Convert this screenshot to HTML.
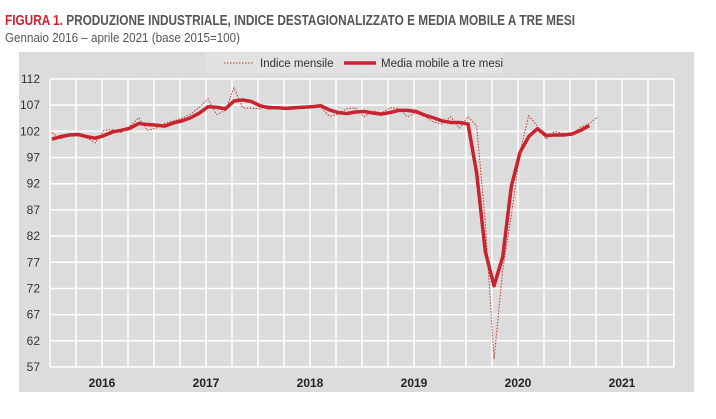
<!DOCTYPE html>
<html><head><meta charset="utf-8"><style>
body{margin:0;background:#fff;width:716px;height:419px;overflow:hidden}
svg{display:block;font-family:"Liberation Sans",sans-serif}
</style></head><body>
<svg id="s" width="716" height="419" viewBox="0 0 716 419">
<text x="5" y="25" font-size="14.5" font-weight="bold" fill="#555" textLength="570" lengthAdjust="spacingAndGlyphs"><tspan fill="#d0202e">FIGURA 1.</tspan> PRODUZIONE INDUSTRIALE, INDICE DESTAGIONALIZZATO E MEDIA MOBILE A TRE MESI</text>
<text x="5" y="42" font-size="12.5" fill="#555" textLength="235" lengthAdjust="spacingAndGlyphs">Gennaio 2016 – aprile 2021 (base 2015=100)</text>
<rect x="19" y="52" width="675" height="340" fill="#dcdcdc"/>
<rect x="205" y="53" width="298" height="20" fill="#e2e2e2"/>
<line x1="224" y1="63" x2="254" y2="63" stroke="#c0392b" stroke-width="1" stroke-dasharray="1.5,1.5"/>
<text x="260" y="67" font-size="11.5" fill="#333">Indice mensile</text>
<line x1="344" y1="63" x2="376" y2="63" stroke="#c8232f" stroke-width="3.5"/>
<text x="381" y="67" font-size="11.5" fill="#333">Media mobile a tre mesi</text>
<g id="grid" stroke="#fff" stroke-width="1.5"></g>
<g id="yl" font-size="12" fill="#333" text-anchor="end"></g>
<g font-size="12" font-weight="bold" fill="#222" text-anchor="middle">
<text x="102" y="387">2016</text><text x="206" y="387">2017</text><text x="310" y="387">2018</text><text x="414" y="387">2019</text><text x="518" y="387">2020</text><text x="622" y="387">2021</text></g>
<polyline id="mo" fill="none" stroke="#c0392b" stroke-width="1" stroke-dasharray="1.5,1.5"/>
<polyline id="ma" fill="none" stroke="#c8232f" stroke-width="3.5" stroke-linejoin="round"/>
</svg>
<script>
var Y=function(v){return 79+(112-v)*5.236};
var X=function(i){return 52+8.667*i};
var g='';
for(var k=0;k<=24;k++){var x=50+26*k;g+='<line x1="'+x+'" y1="79" x2="'+x+'" y2="367"/>';}
var yl='';
for(var v=57;v<=112;v+=5){g+='<line x1="50" y1="'+Y(v)+'" x2="674" y2="'+Y(v)+'"/>';yl+='<text x="40" y="'+(Y(v)+4)+'">'+v+'</text>';}
document.getElementById('grid').innerHTML=g;
document.getElementById('yl').innerHTML=yl;
var ma=[100.5,101,101.3,101.4,101,100.7,101.2,101.9,102.2,102.6,103.5,103.3,
103.2,103,103.6,104,104.6,105.5,106.7,106.6,106.3,107.8,108,107.7,
106.9,106.5,106.5,106.4,106.5,106.6,106.7,106.9,106.1,105.6,105.4,105.7,
105.8,105.5,105.3,105.6,106,106,105.8,105.1,104.6,104,103.7,103.7,
103.4,94,79,72.5,78,91.5,98,101,102.5,101.2,101.3,101.3,
101.5,102.2,103.1];
var mo=[101.8,100.5,101.5,101.2,100.8,99.8,102.2,102.3,101.8,103,104.6,102.2,
102.6,103.5,104,104.5,105.3,106.6,108.2,105.2,106,110.3,106.5,106.4,
106.3,107,106.3,106.2,106.8,106.6,107,106.6,104.9,105.3,106.3,106.5,
104.8,105.9,105.5,106.5,106.4,104.8,105.5,104.9,103.8,103.4,104.8,102.6,
104.8,103,84.5,58.5,75.5,86,98,105,103,100.5,102,101.6,
101.4,102.8,103.5,104.8];
var p='',q='';
for(var i=0;i<ma.length;i++)p+=X(i)+','+Y(ma[i])+' ';
for(i=0;i<mo.length;i++)q+=X(i)+','+Y(mo[i])+' ';
document.getElementById('ma').setAttribute('points',p);
document.getElementById('mo').setAttribute('points',q);
</script>
</body></html>
